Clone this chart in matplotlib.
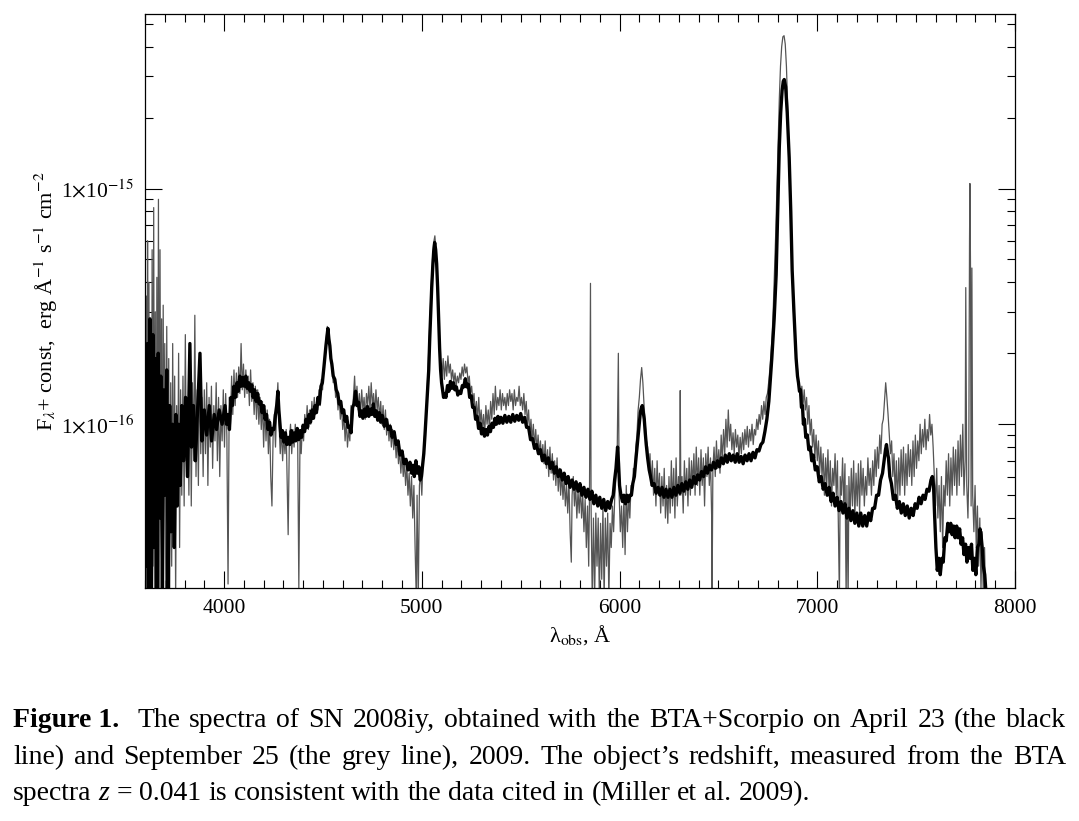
import matplotlib
matplotlib.use("Agg")
import matplotlib.pyplot as plt
from matplotlib.ticker import FixedLocator, LogLocator, MultipleLocator, NullFormatter

plt.rcParams["font.family"] = ["Liberation Serif", "DejaVu Serif"]
plt.rcParams["mathtext.fontset"] = "stix"

UNIT = 1e-16  # flux values below are in units of 1e-16 erg/s/cm2/A

# April 23, 2009 (black line): (wavelength, flux)
spec_april = [
    (3605, 0.25), (3612, 2.2), (3618, 0.15), (3625, 2.8), (3632, 0.18), (3640, 2.4), (3646, 0.3),
    (3652, 1.9), (3660, 0.15), (3667, 2.0), (3674, 0.4), (3680, 1.6), (3688, 0.18), (3695, 1.4),
    (3702, 0.5), (3710, 1.7), (3717, 0.2), (3725, 1.2), (3732, 0.35), (3740, 1.0), (3748, 0.3),
    (3756, 1.1), (3763, 0.45), (3770, 1.0), (3778, 0.55), (3786, 1.2), (3795, 0.7), (3805, 1.3),
    (3815, 0.6), (3827, 2.2), (3835, 0.8), (3845, 1.2), (3855, 0.7), (3865, 1.1), (3878, 2.0),
    (3888, 0.85), (3900, 1.15), (3912, 0.9), (3925, 1.2), (3937, 0.85), (3950, 1.1), (3962, 0.95),
    (3975, 1.15), (3990, 1.0), (4005, 1.2), (4012, 1.0), (4020, 1.1), (4027, 0.95), (4035, 1.3),
    (4042, 1.2), (4050, 1.45), (4057, 1.3), (4065, 1.5), (4072, 1.38), (4080, 1.6), (4087, 1.45),
    (4095, 1.58), (4102, 1.45), (4110, 1.6), (4117, 1.42), (4125, 1.5), (4132, 1.38), (4140, 1.47),
    (4147, 1.3), (4155, 1.4), (4162, 1.25), (4170, 1.35), (4177, 1.22), (4185, 1.25), (4192, 1.12),
    (4200, 1.2), (4207, 1.05), (4215, 1.1), (4222, 0.95), (4230, 1.02), (4237, 0.9), (4245, 0.96),
    (4252, 0.95), (4260, 1.1), (4266, 1.2), (4272, 1.38), (4277, 1.15), (4282, 1.02), (4288, 0.88),
    (4295, 0.94), (4302, 0.84), (4310, 0.92), (4317, 0.82), (4325, 0.88), (4332, 0.82), (4340, 0.94),
    (4347, 0.84), (4355, 0.92), (4362, 0.85), (4370, 0.96), (4377, 0.86), (4385, 0.94), (4392, 0.88),
    (4400, 0.99), (4407, 0.93), (4415, 1.05), (4422, 0.97), (4430, 1.1), (4437, 1.02), (4445, 1.15),
    (4452, 1.06), (4460, 1.2), (4467, 1.12), (4475, 1.3), (4482, 1.22), (4490, 1.45), (4497, 1.5),
    (4505, 1.75), (4510, 1.95), (4515, 2.15), (4520, 2.35), (4525, 2.55), (4530, 2.3), (4535, 2.15),
    (4540, 1.9), (4545, 1.8), (4552, 1.6), (4560, 1.55), (4567, 1.4), (4575, 1.35), (4582, 1.22),
    (4590, 1.25), (4597, 1.12), (4605, 1.15), (4612, 1.03), (4620, 1.08), (4627, 0.97), (4635, 0.98),
    (4642, 0.92), (4650, 1.18), (4657, 1.22), (4665, 1.38), (4672, 1.2), (4680, 1.24), (4687, 1.08),
    (4695, 1.14), (4702, 1.06), (4710, 1.16), (4717, 1.08), (4725, 1.19), (4732, 1.08), (4740, 1.16),
    (4747, 1.1), (4755, 1.22), (4762, 1.08), (4770, 1.14), (4777, 1.04), (4785, 1.12), (4792, 1.02),
    (4800, 1.09), (4810, 0.98), (4820, 1.05), (4830, 0.95), (4840, 0.98), (4850, 0.88), (4860, 0.93),
    (4870, 0.82), (4880, 0.85), (4890, 0.74), (4900, 0.77), (4910, 0.68), (4920, 0.71), (4930, 0.64),
    (4940, 0.69), (4948, 0.62), (4955, 0.67), (4962, 0.6), (4970, 0.7), (4977, 0.62), (4985, 0.66),
    (4992, 0.58), (4998, 0.6), (5005, 0.68), (5010, 0.75), (5016, 0.9), (5022, 1.1), (5028, 1.35),
    (5035, 1.7), (5040, 2.3), (5045, 3.0), (5050, 3.8), (5055, 4.6), (5060, 5.4), (5065, 5.9),
    (5070, 5.5), (5075, 4.8), (5080, 3.8), (5085, 2.8), (5090, 2.1), (5095, 1.7), (5100, 1.5),
    (5105, 1.4), (5110, 1.3), (5115, 1.35), (5122, 1.3), (5130, 1.46), (5137, 1.38), (5145, 1.52),
    (5152, 1.42), (5160, 1.5), (5167, 1.4), (5175, 1.44), (5182, 1.33), (5190, 1.38), (5197, 1.35),
    (5205, 1.46), (5212, 1.44), (5220, 1.56), (5227, 1.44), (5235, 1.48), (5242, 1.3), (5250, 1.32),
    (5257, 1.18), (5265, 1.18), (5272, 1.05), (5280, 1.08), (5287, 0.96), (5295, 1.01), (5302, 0.91),
    (5310, 0.96), (5317, 0.89), (5325, 0.95), (5332, 0.9), (5340, 0.98), (5347, 0.93), (5355, 1.01),
    (5362, 0.97), (5370, 1.06), (5377, 1.0), (5385, 1.08), (5392, 1.01), (5400, 1.07), (5410, 1.01),
    (5420, 1.09), (5430, 1.02), (5440, 1.08), (5450, 1.02), (5460, 1.1), (5470, 1.03), (5480, 1.09),
    (5490, 1.04), (5500, 1.11), (5510, 1.02), (5520, 1.07), (5530, 0.97), (5540, 0.97), (5550, 0.86),
    (5560, 0.87), (5570, 0.79), (5580, 0.82), (5590, 0.75), (5600, 0.78), (5610, 0.7), (5620, 0.74),
    (5630, 0.68), (5640, 0.72), (5650, 0.65), (5660, 0.69), (5670, 0.62), (5680, 0.66), (5690, 0.6),
    (5700, 0.64), (5710, 0.58), (5720, 0.62), (5730, 0.56), (5740, 0.6), (5750, 0.54), (5760, 0.58),
    (5770, 0.53), (5780, 0.57), (5790, 0.52), (5800, 0.56), (5810, 0.5), (5820, 0.54), (5830, 0.49),
    (5840, 0.53), (5850, 0.48), (5860, 0.52), (5870, 0.46), (5880, 0.5), (5890, 0.45), (5900, 0.49),
    (5910, 0.44), (5920, 0.48), (5930, 0.43), (5940, 0.47), (5950, 0.44), (5960, 0.48), (5968, 0.5),
    (5975, 0.58), (5982, 0.65), (5990, 0.8), (5995, 0.68), (6000, 0.55), (6007, 0.5), (6015, 0.47),
    (6022, 0.5), (6030, 0.46), (6037, 0.5), (6045, 0.47), (6052, 0.5), (6060, 0.5), (6067, 0.56),
    (6075, 0.6), (6082, 0.7), (6090, 0.82), (6097, 0.95), (6105, 1.12), (6110, 1.17), (6115, 1.2),
    (6120, 1.12), (6125, 1.05), (6130, 0.92), (6135, 0.82), (6142, 0.72), (6150, 0.64), (6157, 0.6),
    (6165, 0.55), (6175, 0.56), (6185, 0.51), (6195, 0.54), (6205, 0.5), (6215, 0.54), (6225, 0.49),
    (6235, 0.53), (6245, 0.49), (6255, 0.53), (6265, 0.49), (6275, 0.54), (6285, 0.5), (6295, 0.55),
    (6305, 0.51), (6315, 0.56), (6325, 0.52), (6335, 0.57), (6345, 0.53), (6355, 0.58), (6365, 0.54),
    (6375, 0.6), (6385, 0.56), (6395, 0.61), (6405, 0.58), (6415, 0.63), (6425, 0.6), (6435, 0.66),
    (6445, 0.62), (6455, 0.67), (6465, 0.64), (6475, 0.69), (6485, 0.65), (6495, 0.7), (6505, 0.66),
    (6515, 0.72), (6525, 0.68), (6535, 0.74), (6545, 0.69), (6555, 0.75), (6565, 0.7), (6575, 0.74),
    (6585, 0.69), (6595, 0.75), (6605, 0.69), (6615, 0.73), (6625, 0.68), (6635, 0.74), (6645, 0.7),
    (6655, 0.75), (6665, 0.7), (6675, 0.76), (6685, 0.72), (6695, 0.78), (6705, 0.77), (6715, 0.82),
    (6725, 0.84), (6735, 0.93), (6745, 1.05), (6755, 1.25), (6770, 1.9), (6782, 2.8), (6792, 4.3),
    (6800, 8.0), (6808, 15.0), (6815, 21.0), (6822, 26.0), (6828, 28.5), (6833, 29.0), (6840, 27.0),
    (6848, 21.0), (6858, 13.5), (6866, 8.0), (6873, 4.5), (6882, 3.0), (6893, 1.9), (6900, 1.6),
    (6905, 1.5), (6910, 1.38), (6915, 1.4), (6920, 1.18), (6925, 1.2), (6930, 1.0), (6935, 1.05),
    (6942, 0.88), (6950, 0.9), (6957, 0.78), (6965, 0.8), (6972, 0.7), (6980, 0.74), (6990, 0.64),
    (7000, 0.66), (7010, 0.57), (7020, 0.6), (7030, 0.53), (7040, 0.56), (7050, 0.5), (7060, 0.54),
    (7070, 0.47), (7080, 0.51), (7090, 0.45), (7100, 0.49), (7110, 0.43), (7120, 0.47), (7130, 0.42),
    (7140, 0.46), (7150, 0.4), (7160, 0.44), (7170, 0.39), (7180, 0.43), (7190, 0.38), (7200, 0.42),
    (7210, 0.37), (7220, 0.42), (7230, 0.37), (7240, 0.41), (7250, 0.37), (7260, 0.42), (7270, 0.39),
    (7280, 0.44), (7290, 0.44), (7300, 0.5), (7310, 0.5), (7320, 0.58), (7330, 0.62), (7340, 0.72),
    (7345, 0.78), (7350, 0.82), (7355, 0.76), (7360, 0.72), (7367, 0.6), (7375, 0.56), (7385, 0.48),
    (7395, 0.5), (7405, 0.44), (7415, 0.47), (7425, 0.42), (7435, 0.46), (7445, 0.41), (7455, 0.45),
    (7465, 0.4), (7475, 0.44), (7485, 0.41), (7495, 0.46), (7505, 0.44), (7515, 0.49), (7525, 0.46),
    (7535, 0.5), (7545, 0.48), (7555, 0.53), (7565, 0.52), (7575, 0.58), (7582, 0.6), (7588, 0.55),
    (7593, 0.42), (7600, 0.3), (7607, 0.24), (7615, 0.27), (7622, 0.23), (7630, 0.27), (7637, 0.26),
    (7645, 0.33), (7652, 0.32), (7660, 0.38), (7667, 0.35), (7675, 0.38), (7682, 0.34), (7690, 0.37),
    (7697, 0.33), (7705, 0.37), (7712, 0.33), (7720, 0.36), (7727, 0.31), (7735, 0.33), (7742, 0.28),
    (7750, 0.31), (7757, 0.26), (7765, 0.3), (7772, 0.27), (7780, 0.31), (7787, 0.24), (7795, 0.27),
    (7802, 0.23), (7810, 0.3), (7817, 0.31), (7823, 0.36), (7828, 0.34), (7834, 0.3), (7840, 0.25),
    (7847, 0.23), (7852, 0.2), (7858, 0.18), (7864, 0.15),
]

# September 25, 2009 (grey line): (wavelength, flux)
spec_september = [
    (3602, 0.15), (3606, 3.5), (3609, 0.12), (3613, 6.0), (3616, 0.3), (3620, 4.0), (3624, 0.15),
    (3628, 2.5), (3632, 0.12), (3636, 5.5), (3640, 0.25), (3644, 8.3), (3648, 0.2), (3652, 3.0),
    (3656, 0.15), (3660, 4.2), (3664, 0.3), (3668, 9.0), (3672, 0.2), (3676, 5.5), (3680, 0.4),
    (3684, 2.8), (3688, 0.15), (3692, 3.2), (3696, 0.5), (3700, 2.2), (3705, 0.2), (3710, 2.6),
    (3715, 0.35), (3720, 1.9), (3725, 0.2), (3730, 1.5), (3735, 0.25), (3740, 2.2), (3745, 0.4),
    (3750, 1.6), (3755, 0.18), (3760, 1.2), (3765, 0.5), (3770, 2.0), (3775, 0.3), (3780, 1.4),
    (3786, 0.5), (3792, 1.6), (3798, 0.45), (3804, 2.4), (3810, 0.6), (3816, 1.3), (3822, 0.5),
    (3828, 1.8), (3834, 0.45), (3840, 1.5), (3846, 0.7), (3852, 2.9), (3858, 0.6), (3864, 1.4),
    (3870, 0.55), (3876, 1.7), (3882, 0.75), (3888, 1.3), (3894, 0.6), (3900, 1.4), (3906, 0.75),
    (3912, 1.5), (3918, 0.55), (3924, 1.3), (3930, 0.8), (3936, 1.45), (3942, 0.65), (3948, 1.2),
    (3954, 0.85), (3960, 1.5), (3966, 0.7), (3972, 1.3), (3978, 0.6), (3984, 1.2), (3990, 0.85),
    (3996, 1.4), (4002, 0.8), (4008, 1.35), (4014, 0.9), (4020, 0.21), (4026, 1.3), (4032, 1.0),
    (4038, 1.6), (4044, 1.1), (4050, 1.7), (4056, 1.2), (4062, 1.65), (4068, 1.3), (4074, 1.75),
    (4080, 1.35), (4086, 2.2), (4092, 1.4), (4098, 1.8), (4104, 1.3), (4110, 1.7), (4116, 1.35),
    (4122, 1.6), (4128, 1.2), (4134, 1.7), (4140, 1.25), (4146, 1.5), (4152, 1.1), (4158, 1.45),
    (4164, 1.05), (4170, 1.4), (4176, 1.0), (4182, 1.3), (4188, 0.95), (4194, 1.25), (4200, 0.8),
    (4206, 1.2), (4212, 0.85), (4218, 1.15), (4224, 0.75), (4230, 1.05), (4236, 0.6), (4242, 0.45),
    (4248, 0.9), (4254, 1.1), (4260, 0.8), (4266, 1.2), (4272, 1.5), (4278, 1.0), (4284, 0.75),
    (4290, 0.95), (4296, 0.7), (4302, 0.9), (4308, 0.75), (4314, 0.95), (4320, 0.5), (4324, 0.34),
    (4330, 0.85), (4336, 1.0), (4342, 0.75), (4348, 0.95), (4354, 0.8), (4360, 1.0), (4366, 0.85),
    (4372, 0.9), (4378, 0.2), (4384, 0.9), (4390, 0.75), (4396, 1.0), (4402, 0.85), (4408, 1.1),
    (4414, 0.95), (4420, 1.2), (4426, 0.95), (4432, 1.15), (4438, 1.0), (4444, 1.25), (4450, 1.05),
    (4456, 1.3), (4462, 1.1), (4468, 1.25), (4474, 1.15), (4480, 1.4), (4486, 1.2), (4492, 1.55),
    (4498, 1.4), (4504, 1.8), (4510, 1.9), (4516, 2.3), (4522, 2.6), (4528, 2.4), (4534, 2.2),
    (4540, 1.9), (4546, 1.7), (4552, 1.5), (4558, 1.6), (4564, 1.3), (4570, 1.4), (4576, 1.15),
    (4582, 1.3), (4588, 1.05), (4594, 1.2), (4600, 0.95), (4606, 1.1), (4612, 0.85), (4618, 1.05),
    (4624, 0.8), (4630, 0.95), (4636, 0.85), (4642, 1.2), (4648, 1.0), (4654, 1.3), (4660, 1.6),
    (4666, 1.2), (4672, 1.45), (4678, 1.15), (4684, 1.35), (4690, 1.1), (4696, 1.4), (4702, 1.15),
    (4708, 1.3), (4714, 1.05), (4720, 1.35), (4726, 1.2), (4732, 1.45), (4738, 1.15), (4744, 1.5),
    (4750, 1.2), (4756, 1.35), (4762, 1.1), (4768, 1.4), (4774, 1.15), (4780, 1.3), (4786, 1.05),
    (4792, 1.25), (4798, 1.0), (4804, 1.2), (4810, 0.95), (4816, 1.15), (4822, 0.9), (4828, 1.05),
    (4834, 0.85), (4840, 1.0), (4846, 0.8), (4852, 0.95), (4858, 0.78), (4864, 0.9), (4870, 0.72),
    (4876, 0.85), (4882, 0.68), (4888, 0.78), (4894, 0.62), (4900, 0.75), (4906, 0.6), (4912, 0.7),
    (4918, 0.55), (4924, 0.68), (4930, 0.5), (4936, 0.62), (4942, 0.45), (4948, 0.6), (4954, 0.4),
    (4960, 0.55), (4966, 0.3), (4972, 0.18), (4976, 0.5), (4982, 0.18), (4988, 0.55), (4994, 0.62),
    (5000, 0.5), (5006, 0.7), (5012, 0.85), (5018, 1.0), (5024, 1.2), (5030, 1.6), (5036, 2.1),
    (5042, 2.9), (5048, 3.9), (5054, 5.0), (5060, 5.9), (5066, 6.3), (5072, 5.4), (5078, 4.0),
    (5084, 2.9), (5090, 2.0), (5096, 1.75), (5102, 1.6), (5108, 1.9), (5114, 1.55), (5120, 1.85),
    (5126, 1.6), (5132, 1.95), (5138, 1.65), (5144, 1.8), (5150, 1.55), (5156, 1.7), (5162, 1.5),
    (5168, 1.65), (5174, 1.45), (5180, 1.6), (5186, 1.5), (5192, 1.65), (5198, 1.55), (5204, 1.75),
    (5210, 1.6), (5216, 1.8), (5222, 1.65), (5228, 1.75), (5234, 1.5), (5240, 1.6), (5246, 1.35),
    (5252, 1.45), (5258, 1.25), (5264, 1.35), (5270, 1.1), (5276, 1.25), (5282, 1.05), (5288, 1.3),
    (5294, 1.0), (5300, 1.15), (5306, 0.95), (5312, 1.1), (5318, 0.9), (5324, 1.2), (5330, 1.0),
    (5336, 1.15), (5342, 0.95), (5348, 1.25), (5354, 1.05), (5360, 1.35), (5366, 1.1), (5372, 1.45),
    (5378, 1.15), (5384, 1.3), (5390, 1.2), (5396, 1.4), (5402, 1.15), (5408, 1.35), (5414, 1.2),
    (5420, 1.3), (5426, 1.15), (5432, 1.35), (5438, 1.2), (5444, 1.4), (5450, 1.25), (5456, 1.35),
    (5462, 1.15), (5468, 1.4), (5474, 1.2), (5480, 1.3), (5486, 1.25), (5492, 1.45), (5498, 1.2),
    (5504, 1.3), (5510, 1.15), (5516, 1.35), (5522, 1.1), (5528, 1.25), (5534, 1.0), (5540, 1.15),
    (5546, 0.9), (5552, 1.05), (5558, 0.85), (5564, 1.0), (5570, 0.8), (5576, 0.95), (5582, 0.78),
    (5588, 0.9), (5594, 0.75), (5600, 0.85), (5606, 0.7), (5612, 0.82), (5618, 0.68), (5624, 0.85),
    (5630, 0.65), (5636, 0.78), (5642, 0.6), (5648, 0.8), (5654, 0.62), (5660, 0.75), (5666, 0.58),
    (5672, 0.7), (5678, 0.55), (5684, 0.72), (5690, 0.52), (5696, 0.65), (5702, 0.5), (5708, 0.62),
    (5714, 0.48), (5720, 0.6), (5726, 0.45), (5732, 0.55), (5738, 0.42), (5744, 0.58), (5750, 0.35),
    (5756, 0.26), (5760, 0.5), (5766, 0.6), (5772, 0.45), (5778, 0.55), (5784, 0.4), (5790, 0.52),
    (5796, 0.42), (5802, 0.55), (5808, 0.4), (5814, 0.5), (5820, 0.35), (5826, 0.48), (5832, 0.3),
    (5838, 0.45), (5844, 0.25), (5848, 0.5), (5853, 3.96), (5856, 0.45), (5862, 0.18), (5868, 0.4),
    (5874, 0.18), (5880, 0.42), (5886, 0.25), (5892, 0.4), (5898, 0.18), (5904, 0.38), (5910, 0.22),
    (5916, 0.45), (5922, 0.18), (5928, 0.4), (5934, 0.25), (5940, 0.42), (5946, 0.18), (5952, 0.38),
    (5958, 0.3), (5964, 0.45), (5970, 0.35), (5976, 0.5), (5982, 0.6), (5988, 0.75), (5994, 2.0),
    (5998, 0.5), (6004, 0.35), (6010, 0.45), (6016, 0.3), (6022, 0.5), (6028, 0.28), (6034, 0.55),
    (6040, 0.35), (6046, 0.5), (6052, 0.4), (6058, 0.55), (6064, 0.5), (6070, 0.65), (6076, 0.6),
    (6082, 0.8), (6088, 0.9), (6094, 1.15), (6100, 1.3), (6106, 1.55), (6112, 1.74), (6118, 1.5),
    (6124, 1.2), (6130, 1.0), (6136, 0.85), (6142, 0.8), (6148, 0.65), (6154, 0.75), (6160, 0.55),
    (6166, 0.7), (6172, 0.5), (6178, 0.65), (6184, 0.45), (6190, 0.7), (6196, 0.5), (6202, 0.62),
    (6208, 0.42), (6214, 0.6), (6220, 0.45), (6226, 0.65), (6232, 0.4), (6238, 0.55), (6244, 0.38),
    (6250, 0.6), (6256, 0.42), (6262, 0.7), (6268, 0.45), (6274, 0.65), (6280, 0.4), (6286, 0.72),
    (6292, 0.45), (6298, 0.6), (6304, 0.5), (6307, 1.39), (6310, 0.5), (6316, 0.6), (6322, 0.42),
    (6328, 0.7), (6334, 0.5), (6340, 0.65), (6346, 0.45), (6352, 0.72), (6358, 0.5), (6364, 0.7),
    (6370, 0.55), (6376, 0.75), (6382, 0.5), (6388, 0.8), (6394, 0.55), (6400, 0.72), (6406, 0.5),
    (6412, 0.78), (6418, 0.55), (6424, 0.72), (6430, 0.45), (6436, 0.75), (6442, 0.6), (6448, 0.8),
    (6454, 0.55), (6460, 0.72), (6466, 0.4), (6468, 0.18), (6472, 0.65), (6478, 0.8), (6484, 0.6),
    (6490, 0.85), (6496, 0.65), (6502, 0.78), (6508, 0.62), (6514, 0.9), (6520, 0.7), (6526, 0.95),
    (6532, 0.75), (6538, 1.05), (6544, 0.8), (6550, 1.15), (6556, 0.85), (6562, 1.0), (6568, 0.78),
    (6574, 0.92), (6580, 0.75), (6586, 0.95), (6592, 0.8), (6598, 0.9), (6604, 0.72), (6610, 0.88),
    (6616, 0.75), (6622, 0.92), (6628, 0.78), (6634, 0.95), (6640, 0.82), (6646, 0.98), (6652, 0.8),
    (6658, 0.95), (6664, 0.85), (6670, 1.0), (6676, 0.82), (6682, 0.95), (6688, 0.9), (6694, 1.05),
    (6700, 0.95), (6706, 1.1), (6712, 1.0), (6718, 1.2), (6724, 1.05), (6730, 1.25), (6736, 1.1),
    (6742, 1.3), (6748, 1.35), (6754, 1.5), (6760, 1.7), (6766, 2.0), (6772, 2.4), (6778, 3.2),
    (6784, 4.5), (6790, 6.5), (6796, 10.0), (6802, 16.0), (6808, 24.0), (6814, 33.0), (6820, 40.0),
    (6826, 44.0), (6832, 44.5), (6838, 41.0), (6844, 33.0), (6850, 23.0), (6856, 15.0), (6862, 9.5),
    (6868, 6.0), (6874, 4.2), (6880, 3.0), (6886, 2.4), (6892, 2.0), (6898, 1.8), (6904, 1.55),
    (6910, 1.4), (6916, 1.3), (6922, 1.45), (6928, 1.2), (6934, 1.4), (6940, 1.15), (6946, 1.3),
    (6952, 1.0), (6958, 1.2), (6964, 0.9), (6970, 1.05), (6976, 0.8), (6982, 0.95), (6988, 0.72),
    (6994, 0.9), (7000, 0.7), (7006, 0.85), (7012, 0.62), (7018, 0.8), (7024, 0.6), (7030, 0.75),
    (7036, 0.5), (7042, 0.72), (7048, 0.55), (7054, 0.78), (7060, 0.5), (7066, 0.7), (7072, 0.45),
    (7078, 0.65), (7084, 0.55), (7090, 0.75), (7096, 0.5), (7102, 0.7), (7108, 0.3), (7112, 0.18),
    (7116, 0.6), (7122, 0.5), (7128, 0.72), (7134, 0.45), (7140, 0.68), (7146, 0.18), (7150, 0.55),
    (7156, 0.18), (7160, 0.6), (7166, 0.4), (7172, 0.65), (7178, 0.45), (7184, 0.7), (7190, 0.4),
    (7196, 0.62), (7202, 0.45), (7208, 0.68), (7214, 0.42), (7220, 0.7), (7226, 0.5), (7232, 0.65),
    (7238, 0.45), (7244, 0.6), (7250, 0.5), (7256, 0.72), (7262, 0.55), (7268, 0.65), (7274, 0.5),
    (7280, 0.7), (7286, 0.55), (7292, 0.78), (7298, 0.6), (7304, 0.8), (7310, 0.65), (7316, 0.9),
    (7322, 0.75), (7328, 1.0), (7334, 1.05), (7340, 1.25), (7346, 1.5), (7352, 1.3), (7358, 1.1),
    (7364, 0.9), (7370, 0.75), (7376, 0.85), (7382, 0.6), (7388, 0.75), (7394, 0.5), (7400, 0.7),
    (7406, 0.45), (7412, 0.72), (7418, 0.5), (7424, 0.78), (7430, 0.55), (7436, 0.8), (7442, 0.5),
    (7448, 0.75), (7454, 0.55), (7460, 0.82), (7466, 0.6), (7472, 0.78), (7478, 0.55), (7484, 0.85),
    (7490, 0.6), (7496, 0.9), (7502, 0.65), (7508, 0.85), (7514, 0.7), (7520, 1.0), (7526, 0.75),
    (7532, 0.95), (7538, 0.8), (7544, 1.05), (7550, 0.78), (7556, 0.95), (7562, 0.85), (7568, 1.1),
    (7574, 0.9), (7580, 1.0), (7586, 0.8), (7592, 0.6), (7598, 0.45), (7604, 0.65), (7610, 0.4),
    (7616, 0.55), (7622, 0.35), (7628, 0.6), (7634, 0.3), (7640, 0.55), (7646, 0.45), (7652, 0.7),
    (7658, 0.5), (7664, 0.75), (7670, 0.45), (7676, 0.72), (7682, 0.5), (7688, 0.8), (7694, 0.55),
    (7700, 0.78), (7706, 0.5), (7712, 0.85), (7718, 0.55), (7724, 0.9), (7730, 0.6), (7736, 1.0),
    (7742, 0.5), (7748, 0.7), (7751, 3.8), (7756, 0.55), (7762, 0.4), (7766, 0.6), (7770, 6.0),
    (7772, 10.5), (7775, 4.6), (7778, 0.45), (7782, 4.6), (7786, 0.5), (7792, 0.35), (7798, 0.55),
    (7804, 0.3), (7810, 0.45), (7816, 0.25), (7822, 0.4), (7828, 0.2), (7834, 0.35), (7840, 0.18),
    (7846, 0.3), (7852, 0.17), (7860, 0.15),
]

x_ticks = [4000, 5000, 6000, 7000, 8000]
y_ticks = [1e-16, 1e-15]
y_tick_labels = [r"1$\times$10$^{-16}$", r"1$\times$10$^{-15}$"]

caption_lines = [
    [("Figure 1.", "bold"), "The", "spectra", "of", "SN", "2008iy,", "obtained", "with", "the",
     "BTA+Scorpio", "on", "April", "23", "(the", "black"],
    ["line)", "and", "September", "25", "(the", "grey", "line),", "2009.", "The", "object\u2019s",
     "redshift,", "measured", "from", "the", "BTA"],
    ["spectra", ("z", "italic"), "=", "0.041", "is", "consistent", "with", "the", "data", "cited",
     "in", "(Miller", "et", "al.", "2009)."],
]

W, H = 1079, 821
fig = plt.figure(figsize=(W / 100, H / 100), dpi=100)
ax = fig.add_axes([145 / W, 1 - 588 / H, 870 / W, 574 / H])

wl, fl = zip(*spec_september)
ax.plot(wl, [f * UNIT for f in fl], color="#555555", lw=0.9)
wl, fl = zip(*spec_april)
ax.plot(wl, [f * UNIT for f in fl], color="black", lw=2.4)

ax.set_yscale("log")
ax.set_xlim(3600, 8000)
ax.set_ylim(2.02e-17, 5.5e-15)

ax.xaxis.set_major_locator(FixedLocator(x_ticks))
ax.xaxis.set_minor_locator(MultipleLocator(100))
ax.set_xticklabels([str(t) for t in x_ticks])
ax.yaxis.set_major_locator(FixedLocator(y_ticks))
ax.set_yticklabels(y_tick_labels)
ax.yaxis.set_minor_locator(LogLocator(base=10, subs=range(2, 10)))
ax.yaxis.set_minor_formatter(NullFormatter())

ax.tick_params(which="both", direction="in", top=True, right=True, width=0.8,
               labelsize=15.5, pad=8)
ax.tick_params(which="major", length=12)
ax.tick_params(which="minor", length=6)
for s in ax.spines.values():
    s.set_linewidth(0.9)

ax.set_xlabel("\u03bb$_{\\rm obs}$, Å", fontsize=16)
ax.xaxis.set_label_coords(0.5, -0.062)
ax.set_ylabel(r"F$_{\lambda}$+ const,  erg Å$^{-1}$ s$^{-1}$ cm$^{-2}$", fontsize=16)
ax.yaxis.set_label_coords(-0.098, 0.5)

# caption, justified like the journal text block
renderer = fig.canvas.get_renderer()
cap_size = 20
x_left, x_right = 13 / W, 1066 / W
baselines = [1 - 727 / H, 1 - 764 / H, 1 - 800 / H]
space_txt = fig.text(0, 0, "a a", fontsize=cap_size)
nospace_txt = fig.text(0, 0, "aa", fontsize=cap_size)
natural_gap = (space_txt.get_window_extent(renderer).width
               - nospace_txt.get_window_extent(renderer).width) / W
space_txt.remove()
nospace_txt.remove()

for i, words in enumerate(caption_lines):
    texts = []
    for w in words:
        kw = {}
        if isinstance(w, tuple):
            w, style = w
            if style == "bold":
                kw["fontweight"] = "bold"
            else:
                kw["fontstyle"] = "italic"
        texts.append(fig.text(0, baselines[i], w, fontsize=cap_size, va="baseline", **kw))
    widths = [t.get_window_extent(renderer).width / W for t in texts]
    # wider gap after the bold "Figure 1." label
    weights = [1.0] * (len(texts) - 1)
    if i == 0:
        weights[0] = 2.0
    if i < len(caption_lines) - 1:
        unit_gap = (x_right - x_left - sum(widths)) / sum(weights)
        gaps = [unit_gap * wt for wt in weights]
    else:
        gaps = [natural_gap] * len(weights)
    x = x_left
    for j, (t, wdt) in enumerate(zip(texts, widths)):
        t.set_x(x)
        if j < len(gaps):
            x += wdt + gaps[j]

fig.savefig("out.png", dpi=100)
